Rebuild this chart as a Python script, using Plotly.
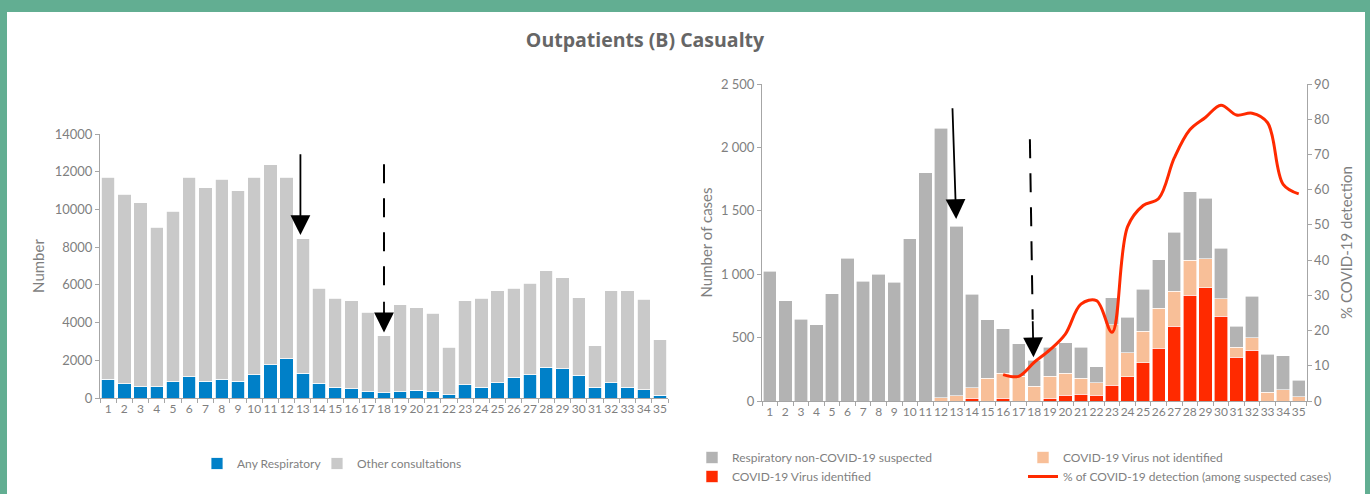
import plotly.graph_objects as go

weeks = ["1", "2", "3", "4", "5", "6", "7", "8", "9", "10", "11", "12", "13", "14", "15", "16", "17", "18",
         "19", "20", "21", "22", "23", "24", "25", "26", "27", "28", "29", "30", "31", "32", "33", "34", "35"]

# left panel: outpatient consultations
any_respiratory = [1000, 760, 600, 600, 850, 1120, 900, 1000, 900, 1230, 1760, 2080, 1320, 790, 570, 480, 320, 270,
                   320, 420, 320, 170, 710, 580, 810, 1100, 1240, 1630, 1550, 1200, 580, 810, 580, 440, 140]
other_consultations = [10700, 10040, 9750, 8450, 9050, 10580, 10250, 10600, 10100, 10470, 10620, 9620, 7130, 5030,
                       4730, 4670, 4240, 3020, 4620, 4360, 4170, 2510, 4440, 4700, 4870, 4730, 4840, 5120, 4820,
                       4110, 2190, 4880, 5110, 4810, 2940]

# right panel: respiratory cases
covid_identified = [0, 0, 0, 0, 0, 0, 0, 0, 0, 0, 0, 0, 0, 20, 0, 20, 0, 0,
                    20, 45, 55, 45, 125, 190, 300, 415, 590, 835, 895, 670, 345, 400, 0, 0, 0]
covid_not_identified = [0, 0, 0, 0, 0, 0, 0, 0, 0, 0, 0, 25, 40, 85, 180, 200, 195, 115,
                        175, 175, 125, 100, 475, 190, 250, 315, 275, 275, 225, 135, 80, 100, 70, 90, 35]
non_covid_suspected = [1025, 790, 645, 600, 845, 1125, 945, 1000, 935, 1280, 1800, 2125, 1340, 735, 460, 350, 255,
                       205, 230, 240, 245, 125, 215, 280, 330, 385, 465, 540, 480, 400, 165, 325, 300, 265, 130]
pct_weeks = ["16", "17", "18", "19", "20", "21", "22", "23", "24", "25", "26", "27", "28", "29", "30", "31",
             "32", "33", "34", "35"]
pct_detection = [7.5, 7.0, 11.0, 14.5, 19.0, 27.5, 28.5, 19.5, 49.5, 55.5, 57.5, 69.0, 77.0, 80.5, 84.0, 81.2,
                 81.7, 79.0, 61.5, 58.8]

left_ticks = [0, 2000, 4000, 6000, 8000, 10000, 12000, 14000]
right_ticks = [0, 500, 1000, 1500, 2000, 2500]
right_ticktext = ["0", "500", "1 000", "1 500", "2 000", "2 500"]

W, H = 1370, 494
GREY_TXT = "#7f7f7f"
AXIS = "#a6a6a6"
FONT = "Lato"

fig = go.Figure()

fig.add_trace(go.Bar(x=weeks, y=any_respiratory, name="Any Respiratory", marker_color="#0080c8",
                     marker_line=dict(color="white", width=0.8), width=0.82, xaxis="x", yaxis="y",
                     legend="legend"))
fig.add_trace(go.Bar(x=weeks, y=other_consultations, name="Other consultations", marker_color="#c9c9c9",
                     marker_line=dict(color="white", width=0.8), width=0.82, xaxis="x", yaxis="y",
                     legend="legend4"))

fig.add_trace(go.Bar(x=weeks, y=covid_identified, name="COVID-19 Virus identified", marker_color="#ff2a00",
                     marker_line=dict(color="white", width=0.6), width=0.86, xaxis="x2", yaxis="y2",
                     legend="legend2"))
fig.add_trace(go.Bar(x=weeks, y=covid_not_identified, name="COVID-19 Virus not identified",
                     marker_color="#f8bf98", marker_line=dict(color="white", width=0.6), width=0.86,
                     xaxis="x2", yaxis="y2", legend="legend3"))
fig.add_trace(go.Bar(x=weeks, y=non_covid_suspected, name="Respiratory non-COVID-19 suspected",
                     marker_color="#b3b3b3", marker_line=dict(color="white", width=0.6), width=0.86,
                     xaxis="x2", yaxis="y2", legend="legend2"))
fig.add_trace(go.Scatter(x=pct_weeks, y=pct_detection, mode="lines",
                         name="% of COVID-19 detection (among suspected cases)",
                         line=dict(color="#ff2a00", width=3, shape="spline", smoothing=1),
                         xaxis="x2", yaxis="y3", legend="legend3"))

xcommon = dict(type="category", tickson="boundaries", ticks="outside", ticklen=4, tickcolor=AXIS,
               showline=True, linecolor=AXIS, tickangle=0, showgrid=False, automargin=False,
               tickfont=dict(family=FONT, size=12, color=GREY_TXT))
ycommon = dict(showline=True, linecolor=AXIS, ticks="outside", ticklen=4, tickcolor=AXIS, showgrid=False,
               zeroline=False, automargin=False, tickfont=dict(family=FONT, size=13, color=GREY_TXT))
legcommon = dict(font=dict(family=FONT, size=12, color=GREY_TXT), bgcolor="rgba(0,0,0,0)",
                 xanchor="left", yanchor="top", tracegroupgap=0)

fig.update_layout(
    width=W, height=H,
    margin=dict(l=0, r=0, t=0, b=0, autoexpand=False),
    paper_bgcolor="#62ae92",
    plot_bgcolor="white",
    barmode="stack",
    font=dict(family=FONT, color=GREY_TXT),
    title=dict(text="<b>Outpatients (B) Casualty</b>", x=645 / W, y=1 - 40 / H, xanchor="center",
               yanchor="middle", font=dict(family="Open Sans", size=19.5, color="#666666")),
    xaxis=dict(xcommon, domain=[100 / W, 668 / W], anchor="y"),
    yaxis=dict(ycommon, domain=[1 - 398 / H, 1 - 134 / H], anchor="x", range=[0, 14000],
               tickvals=left_ticks, tickformat="d",
               title=dict(text="Number", standoff=6, font=dict(family=FONT, size=15, color=GREY_TXT))),
    xaxis2=dict(xcommon, domain=[762 / W, 1306.5 / W], anchor="y2"),
    yaxis2=dict(ycommon, domain=[1 - 401 / H, 1 - 84 / H], anchor="x2", range=[0, 2500],
                tickvals=right_ticks, ticktext=right_ticktext,
                title=dict(text="Number of cases", standoff=4, font=dict(family=FONT, size=15, color=GREY_TXT))),
    yaxis3=dict(ycommon, overlaying="y2", side="right", anchor="x2", range=[0, 90], dtick=10,
                title=dict(text="% COVID-19 detection", standoff=12,
                           font=dict(family=FONT, size=15, color=GREY_TXT))),
    legend=dict(legcommon, x=(237 - 40) / W, y=1 - 449 / H),
    legend4=dict(legcommon, x=(357 - 40) / W, y=1 - 449 / H),
    legend2=dict(legcommon, x=(732 - 40) / W, y=1 - 443 / H, traceorder="reversed"),
    legend3=dict(legcommon, x=(1063 - 40) / W, y=1 - 443 / H, traceorder="normal"),
    showlegend=True,
)

# white panel over the green page background
fig.add_shape(type="rect", xref="paper", yref="paper", x0=7 / W, x1=1365 / W, y0=-0.05, y1=1 - 12 / H,
              fillcolor="white", line_width=0, layer="below")

# dashed stems of the marker arrows
fig.add_shape(type="line", xref="x", yref="y", x0=17, x1=17, y0=12390, y1=5190,
              line=dict(color="black", width=2, dash="19px,15px"))
fig.add_shape(type="line", xref="x2", yref="y2", x0=16.72, x1=16.9, y0=2064, y1=640,
              line=dict(color="black", width=2, dash="19px,15px"))

arrow = dict(text="", showarrow=True, arrowhead=2, arrowsize=2.2, arrowwidth=1.8, arrowcolor="black")
fig.add_annotation(arrow, x=11.85, y=8640, xref="x", yref="y", ax=11.85, ay=13000, axref="x", ayref="y")
fig.add_annotation(arrow, x=17, y=3480, xref="x", yref="y", ax=17, ay=5190, axref="x", ayref="y")
fig.add_annotation(arrow, x=11.98, y=1435, xref="x2", yref="y2", ax=11.74, ay=2321, axref="x2", ayref="y2")
fig.add_annotation(arrow, x=16.95, y=345, xref="x2", yref="y2", ax=16.9, ay=640, axref="x2", ayref="y2")

# drop the default page margin so the figure sits at the window corner
fig.write_html("out.html", config={"displayModeBar": False},
               post_script="document.body.style.margin='0';")
